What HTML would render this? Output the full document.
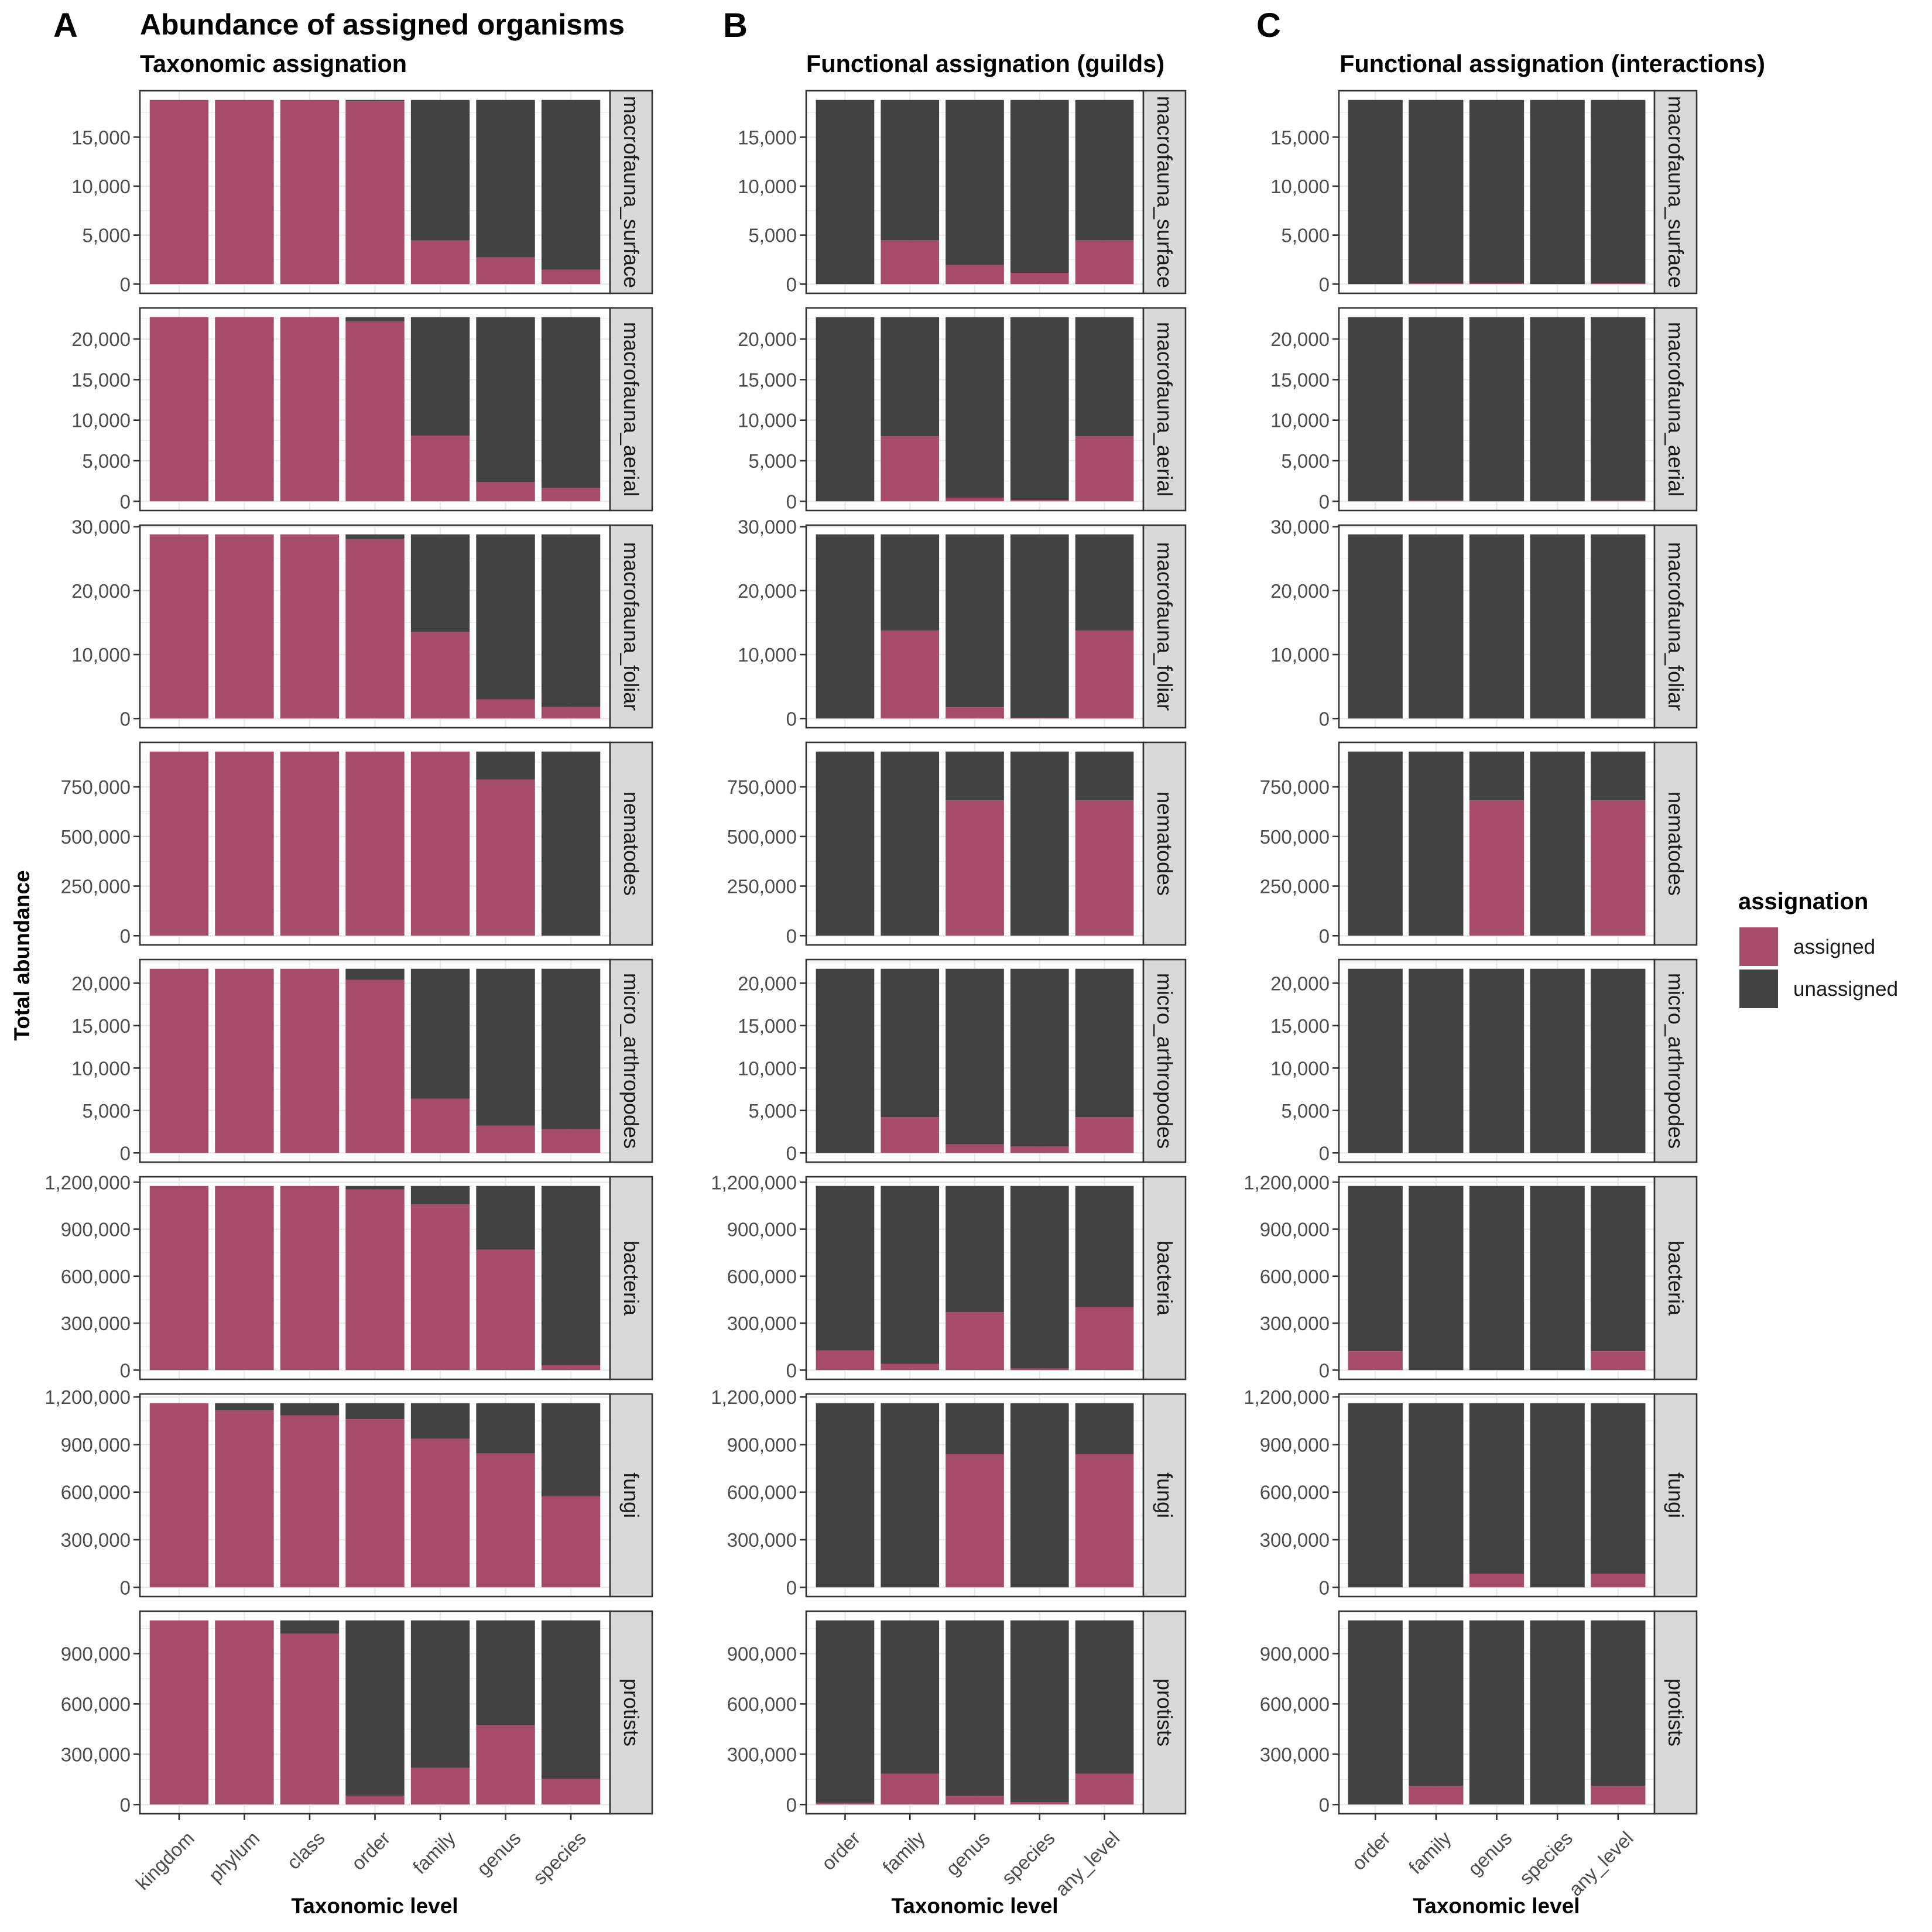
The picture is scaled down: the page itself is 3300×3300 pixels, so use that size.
<!DOCTYPE html>
<html><head><meta charset="utf-8">
<style>
html,body{margin:0;padding:0;background:#fff;}
svg{display:block;font-family:"Liberation Sans",Arial,sans-serif;}
</style></head>
<body>
<svg id="fig" xmlns="http://www.w3.org/2000/svg" width="3300" height="3300" viewBox="0 0 3300 3300">
<rect x="0" y="0" width="3300" height="3300" fill="#fff"/>
<text x="91" y="63" font-size="58" font-weight="bold">A</text>
<text x="1235" y="63" font-size="58" font-weight="bold">B</text>
<text x="2146" y="63" font-size="58" font-weight="bold">C</text>
<text x="239" y="59" font-size="50" font-weight="bold" textLength="828" lengthAdjust="spacingAndGlyphs">Abundance of assigned organisms</text>
<text x="239" y="123" font-size="42" font-weight="bold" textLength="456" lengthAdjust="spacingAndGlyphs">Taxonomic assignation</text>
<text x="1377" y="123" font-size="42" font-weight="bold" textLength="612" lengthAdjust="spacingAndGlyphs">Functional assignation (guilds)</text>
<text x="2288" y="123" font-size="42" font-weight="bold" textLength="727" lengthAdjust="spacingAndGlyphs">Functional assignation (interactions)</text>
<text transform="translate(50,1632) rotate(-90)" text-anchor="middle" font-size="37" font-weight="bold">Total abundance</text>
<text x="640" y="3268" text-anchor="middle" font-size="37" font-weight="bold">Taxonomic level</text>
<text x="1665" y="3268" text-anchor="middle" font-size="37" font-weight="bold">Taxonomic level</text>
<text x="2556" y="3268" text-anchor="middle" font-size="37" font-weight="bold">Taxonomic level</text>
<g>
<text x="2969" y="1553" font-size="40" font-weight="bold">assignation</text>
<rect x="2971" y="1584" width="66" height="66" fill="#a64b68"/>
<text x="3063" y="1629" font-size="35" fill="#1a1a1a">assigned</text>
<rect x="2971" y="1656" width="66" height="66" fill="#424242"/>
<text x="3063" y="1701" font-size="35" fill="#1a1a1a">unassigned</text>
</g>
<g id="plots"></g>
</svg>
<script>
// ---- data ----
const groups = ["macrofauna_surface","macrofauna_aerial","macrofauna_foliar","nematodes","micro_arthropodes","bacteria","fungi","protists"];
const totals = [18800, 22700, 28800, 928000, 21700, 1176000, 1161000, 1098000];
const taxLevels = ["kingdom","phylum","class","order","family","genus","species"];
const funLevels = ["order","family","genus","species","any_level"];
const assignedTax = [
  [18800,18800,18800,18650,4450,2730,1480],
  [22700,22700,22700,22150,8100,2370,1650],
  [28800,28800,28800,28060,13550,3000,1800],
  [928000,928000,928000,928000,928000,787000,0],
  [21700,21700,21700,20400,6400,3200,2800],
  [1176000,1176000,1176000,1153000,1059000,769000,31000],
  [1161000,1115000,1084000,1060000,937000,844000,573000],
  [1098000,1098000,1018000,52000,219000,473000,153000]
];
const assignedGuilds = [
  [0,4460,1960,1150,4460],
  [0,8030,450,150,8030],
  [0,13740,1750,50,13740],
  [0,0,682000,0,682000],
  [0,4200,1000,750,4200],
  [126000,39000,371000,10000,403000],
  [0,0,839000,0,839000],
  [10000,183000,51000,15000,183000]
];
const assignedInter = [
  [0,100,80,0,100],
  [0,100,0,0,100],
  [0,0,0,0,0],
  [0,0,682000,0,682000],
  [0,0,0,0,0],
  [120000,0,0,0,120000],
  [0,0,86000,0,86000],
  [0,110000,0,0,110000]
];
const tickSteps = [5000,5000,10000,250000,5000,300000,300000,300000];

// ---- layout ----
const NS = "http://www.w3.org/2000/svg";
const root = document.getElementById("plots");
const cols = [
  {key:"taxonomic", x0:239, x1:1042, levels:taxLevels, data:assignedTax},
  {key:"guilds", x0:1377, x1:1953, levels:funLevels, data:assignedGuilds},
  {key:"interactions", x0:2287, x1:2826, levels:funLevels, data:assignedInter}
];
const rowTop0 = 155, rowPitch = 371, panelH = 346, stripW = 72;
const PINK = "#a64b68", DARK = "#424242";
function mk(tag, attrs, parent){
  const e = document.createElementNS(NS, tag);
  for (const k in attrs) e.setAttribute(k, attrs[k]);
  parent.appendChild(e);
  return e;
}
function fmt(v){ return v.toLocaleString("en-US"); }

cols.forEach((col, ci) => {
  const n = col.levels.length;
  const span = n - 1 + 1.2;
  const unit = (col.x1 - col.x0) / span;
  const xScale = i => col.x0 + (i + 1 - 0.4) * unit;
  groups.forEach((grp, ri) => {
    const top = rowTop0 + ri * rowPitch;
    const bot = top + panelH;
    const total = totals[ri];
    const yMax = total * 1.05, yMin = -total * 0.05;
    const yScale = v => bot - (v - yMin) / (yMax - yMin) * panelH;
    const g = mk("g", {}, root);
    
    
    const step = tickSteps[ri];
    const ticks = [];
    for (let v = 0; v <= yMax; v += step) ticks.push(v);
    for (let v = step/2; v <= yMax; v += step) {
      if (yScale(v) > top) {
        const ml = mk("line", {x1:col.x0, x2:col.x1, y1:yScale(v), y2:yScale(v), stroke:"#ebebeb", "stroke-width":1.3}, g);
        
        
      }
    }
    ticks.forEach(v => {
      const y = yScale(v);
      const gl = mk("line", {x1:col.x0, x2:col.x1, y1:y, y2:y, stroke:"#ebebeb", "stroke-width":2.6}, g);
      
      
      const tk = mk("line", {x1:col.x0-11, x2:col.x0, y1:y, y2:y, stroke:"#333", "stroke-width":2.6}, g);
      
      
      const tl = mk("text", {x:col.x0-16, y:y+12, "text-anchor":"end", "font-size":33, fill:"#4d4d4d"}, g);
      
      
      tl.textContent = fmt(v);
    });
    col.levels.forEach((lv, i) => {
      const vg = mk("line", {x1:xScale(i), x2:xScale(i), y1:top, y2:bot, stroke:"#ebebeb", "stroke-width":2.6}, g);
      
      
    });
    const bw = 0.9 * unit;
    col.levels.forEach((lv, i) => {
      const a = col.data[ri][i];
      const cx = xScale(i);
      const r1 = mk("rect", {x:cx-bw/2, y:yScale(total), width:bw, height:yScale(a)-yScale(total), fill:DARK}, g);
      
      
      const r2 = mk("rect", {x:cx-bw/2, y:yScale(a), width:bw, height:yScale(0)-yScale(a), fill:PINK}, g);
      
      
    });
    const bd = mk("rect", {x:col.x0, y:top, width:col.x1-col.x0, height:panelH, fill:"none", stroke:"#333", "stroke-width":2.6}, g);
    
    
    const st = mk("rect", {x:col.x1, y:top, width:stripW, height:panelH, fill:"#d9d9d9", stroke:"#333", "stroke-width":2.6}, g);
    
    
    const sx = col.x1 + stripW/2, sy = top + panelH/2;
    const stt = mk("text", {transform:"translate(" + (sx - 12) + "," + sy + ") rotate(90)", "text-anchor":"middle", "font-size":36, fill:"#1a1a1a"}, g);
    
    
    stt.textContent = grp;
    if (ri === groups.length - 1) {
      col.levels.forEach((lv, i) => {
        const cx = xScale(i);
        const xt = mk("line", {x1:cx, x2:cx, y1:bot, y2:bot+11, stroke:"#333", "stroke-width":2.6}, g);
        
        
        const xl = mk("text", {transform:"translate(" + (cx + 28) + "," + (bot + 44) + ") rotate(-45)", "text-anchor":"end", "font-size":33, fill:"#4d4d4d"}, g);
        
        
        xl.textContent = lv;
      });
    }
  });
});
</script>
</body></html>
